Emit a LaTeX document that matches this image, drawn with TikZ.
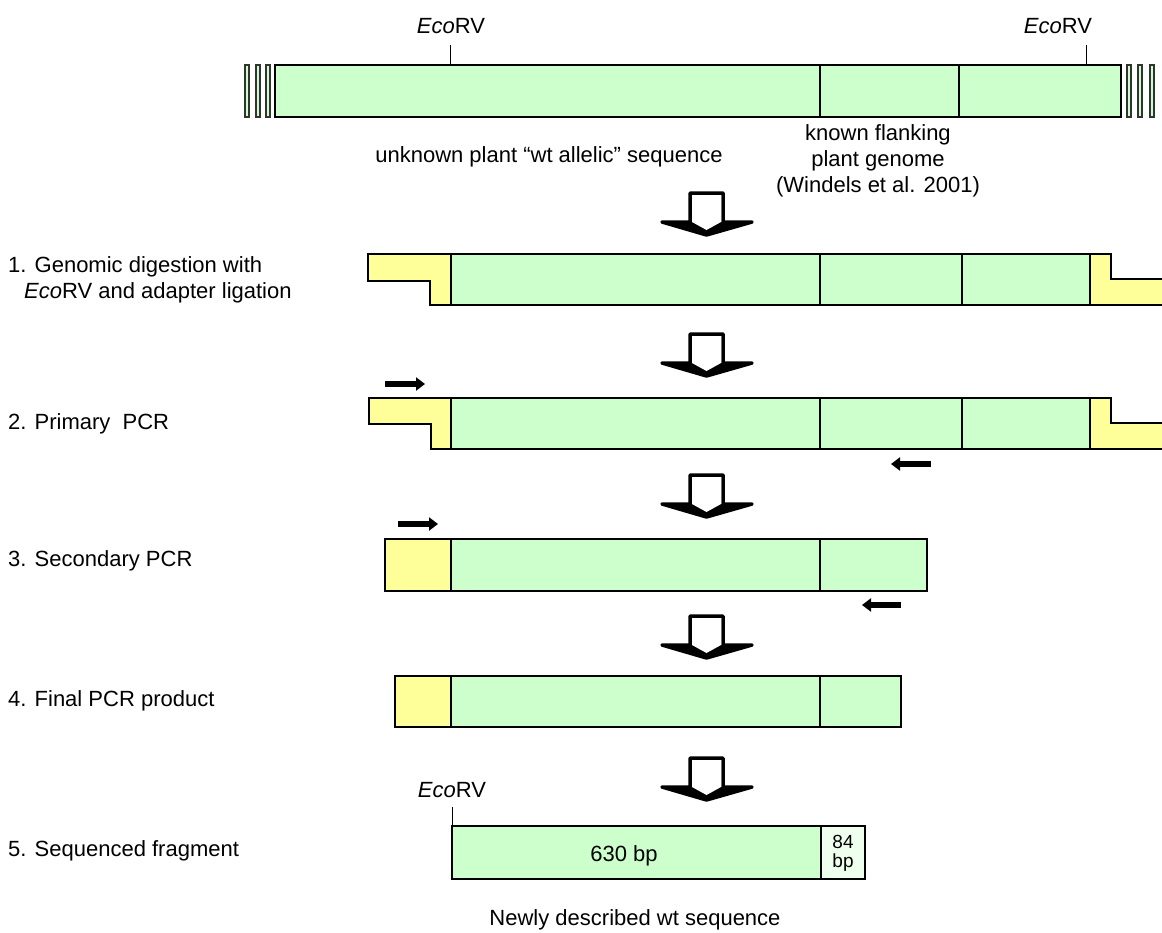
\documentclass[tikz,border=0pt]{standalone}
\usepackage{fontspec}
\setmainfont{Liberation Sans}
\usetikzlibrary{arrows.meta}
\definecolor{lgreen}{HTML}{CCFFCC}
\definecolor{lyellow}{HTML}{FFFF99}
\definecolor{pgreen}{HTML}{EEFFEE}
\tikzset{
  bar/.style={draw=black, line width=1.3pt, fill=lgreen},
  adapt/.style={draw=black, line width=1.3pt, fill=lyellow},
  divl/.style={draw=black, line width=1.3pt},
  hatch/.style={draw=black!80, line width=1.3pt, fill=lgreen},
  lbl/.style={font=\fontsize{22}{26}\selectfont, inner sep=0pt},
  steplbl/.style={lbl, anchor=west},
  primer/.style={line width=6pt, -{Triangle[length=9pt,width=13pt]}},
  bigarrow/.style={draw=black, line width=3.5pt, fill=white, line join=round},
}
\newcommand{\eco}{\textit{Eco}RV}
\begin{document}
\begin{tikzpicture}[x=1pt,y=-1pt]
\useasboundingbox (0,0) rectangle (1162,932);

% ---------- top genome ----------
\foreach \xa in {245,256,266} \draw[hatch] (\xa,65) rectangle ++(4,52);
\foreach \xa in {1127,1138,1150} \draw[hatch] (\xa,65) rectangle ++(4,52);
\draw[bar] (275,65) rectangle (1121,117);
\draw[divl] (820,65) -- (820,117);
\draw[divl] (959,65) -- (959,117);
\coordinate (t1) at (450,65);
\coordinate (t2) at (1086,65);
\node[lbl] (e1) at (451,26) {\eco};
\node[lbl] (e2) at (1058,26) {\eco};
\draw[line width=1pt] (t1) -- ++(0,-20);
\draw[line width=1pt] (t2) -- ++(0,-20);
\node[lbl] (unk) at (549,157) {unknown plant “wt allelic” sequence};
\node[lbl, align=center] (known) at (878,161) {known flanking\\plant genome\\(Windels et al. 2001)};

% ---------- big arrows ----------
\foreach \ya in {193,334,475,616,758}{
  \draw[bigarrow] (690,\ya) -- (723,\ya) -- (723,\ya+29) -- (752,\ya+29) -- (706.5,\ya+42) -- (662,\ya+29) -- (690,\ya+29) -- cycle;
  \fill[black] (662,\ya+29) -- (752,\ya+29) -- (706.5,\ya+42) -- cycle;
  \fill[white] (692,\ya+2) -- (721,\ya+2) -- (721,\ya+29) -- (706.5,\ya+37) -- (692,\ya+29) -- cycle;
}

% ---------- step 1 ----------
\node[steplbl] (s1a) at (8,267) {1. Genomic digestion with};
\node[steplbl] (s1b) at (24,293) {\eco{} and adapter ligation};
\draw[adapt] (368,254) -- (451,254) -- (451,305) -- (430,305) -- (430,281) -- (368,281) -- cycle;
\fill[lyellow] (1090,254) -- (1111,254) -- (1111,279) -- (1162,279) -- (1162,305) -- (1090,305) -- cycle;
\draw[line width=1.3pt] (1162,279) -- (1111,279) -- (1111,254) -- (1090,254) -- (1090,305) -- (1162,305);
\draw[bar] (451,254) rectangle (1090,305);
\draw[divl] (820,254) -- (820,305);
\draw[divl] (962,254) -- (962,305);

% ---------- step 2 ----------
\node[steplbl] (s2) at (8,424) {2. Primary\ \ PCR};
\draw[adapt] (369,398) -- (451,398) -- (451,449) -- (431,449) -- (431,424) -- (369,424) -- cycle;
\fill[lyellow] (1090,398) -- (1111,398) -- (1111,423) -- (1162,423) -- (1162,449) -- (1090,449) -- cycle;
\draw[line width=1.3pt] (1162,423) -- (1111,423) -- (1111,398) -- (1090,398) -- (1090,449) -- (1162,449);
\draw[bar] (451,398) rectangle (1090,449);
\draw[divl] (820,398) -- (820,449);
\draw[divl] (962,398) -- (962,449);
\coordinate (p1a) at (385,384); \coordinate (p1b) at (425,384);
\coordinate (p2a) at (931,464); \coordinate (p2b) at (891,464);
\draw[primer] (p1a) -- (p1b);
\draw[primer] (p2a) -- (p2b);

% ---------- step 3 ----------
\node[steplbl] (s3) at (8,561) {3. Secondary PCR};
\draw[adapt] (385,539) rectangle (451,591);
\draw[bar] (451,539) rectangle (927,591);
\draw[divl] (820,539) -- (820,591);
\coordinate (p3a) at (398,524); \coordinate (p3b) at (438,524);
\coordinate (p4a) at (901,605); \coordinate (p4b) at (862,605);
\draw[primer] (p3a) -- (p3b);
\draw[primer] (p4a) -- (p4b);

% ---------- step 4 ----------
\node[steplbl] (s4) at (8,701) {4. Final PCR product};
\draw[adapt] (395,676) rectangle (451,727);
\draw[bar] (451,676) rectangle (901,727);
\draw[divl] (820,676) -- (820,727);

% ---------- step 5 ----------
\node[steplbl] (s5) at (8,851) {5. Sequenced fragment};
\draw[bar] (452,826) rectangle (821,879);
\draw[divl, fill=pgreen] (821,826) rectangle (865,879);
\coordinate (t3) at (452,826);
\draw[line width=1pt] (t3) -- ++(0,-19);
\node[lbl] (e3) at (452,790) {\eco};
\node[lbl] (bp630) at (624,856) {630 bp};
\node[lbl, align=center, font=\fontsize{19}{19}\selectfont] (bp84) at (843,853) {84\\bp};
\node[lbl] (newly) at (635,920) {Newly described wt sequence};
\end{tikzpicture}
\end{document}
